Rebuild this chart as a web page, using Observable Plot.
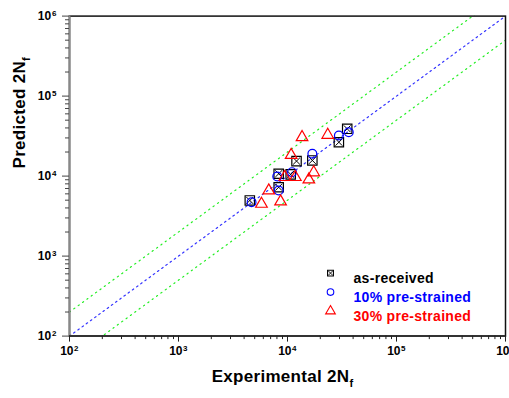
<!DOCTYPE html>
<html><head><meta charset="utf-8">
<script src="https://cdn.jsdelivr.net/npm/d3@7"></script>
<script src="https://cdn.jsdelivr.net/npm/@observablehq/plot@0.6"></script>
<style>
body{margin:0;background:#fff;}
#chart svg{font-family:"Liberation Sans",Arial,sans-serif;}
</style>
</head><body><div id="chart"></div>
<script>
// ---- data ----
const asReceivedX = [35300, 29600, 12100, 16900, 8300, 8300, 4510, 10700];
const asReceivedY = [39000, 26500, 15400, 15700, 10700, 7260, 4960, 10500];
const pre10X = [36500, 29600, 16900, 11000, 8050, 8300, 4680];
const pre10Y = [35400, 32200, 19000, 11200, 9890, 6610, 4720];
const pre30X = [23400, 13600, 10800, 17400, 15700, 9440, 11800, 6730, 8640, 5770];
const pre30Y = [32700, 30600, 18300, 11100, 9050, 9700, 9700, 6590, 4810, 4490];

const seriesNames = ["as-received", "10% pre-strained", "30% pre-strained"];
const seriesColors = ["#000000", "#0000ff", "#ff0000"];
const seriesSymbols = ["square", "circle", "triangle"];

const decadeTicks = [1e2, 1e3, 1e4, 1e5, 1e6];
const tickBase = ["10", "10", "10", "10", "10"];
const tickExponents = ["2", "3", "4", "5", "6"];
const bandFactors = [1, 2, 0.5];
const xTitle = "Experimental 2N_f";
const yTitle = "Predicted 2N_f";

// ---- tables ----
const zip = (xs, ys) => xs.map((x, i) => ({x, y: ys[i]}));
const asReceived = zip(asReceivedX, asReceivedY);
const pre10 = zip(pre10X, pre10Y);
const pre30 = zip(pre30X, pre30Y);
const minorTicks = decadeTicks.slice(0, -1).flatMap(d => [2,3,4,5,6,7,8,9].map(k => k * d));
const lineEnds = [decadeTicks[0], decadeTicks[decadeTicks.length - 1]];
const bandLine = f => lineEnds.map(x => ({x, y: x * f}));
const tickTable = decadeTicks.map((v, i) => ({v, base: tickBase[i], exp: tickExponents[i]}));

const bold = {fontWeight: "bold", fill: "#000"};

const legendMarks = seriesNames.flatMap((name, i) => {
  const dy = 257 + 19 * i;
  const m = [
    Plot.dot([name], {frameAnchor: "top-left", dx: 261, dy, symbol: seriesSymbols[i],
      r: seriesSymbols[i] === "triangle" ? 3.6 : 3.3, stroke: seriesColors[i], strokeWidth: 1.1, fill: "none"}),
    Plot.text([name], {frameAnchor: "top-left", dx: 284, dy, text: d => d, textAnchor: "start",
      fontSize: 14, fontWeight: "bold", fill: seriesColors[i], className: "legtext"})
  ];
  if (seriesSymbols[i] === "square")
    m.push(Plot.dot([name], {frameAnchor: "top-left", dx: 261, dy, symbol: "times", r: 2.2, stroke: seriesColors[i], strokeWidth: 0.9}));
  return m;
});

const plot = Plot.plot({
  width: 509, height: 398,
  marginLeft: 69, marginRight: 4, marginTop: 15.6, marginBottom: 62.4,
  x: {type: "log", domain: lineEnds},
  y: {type: "log", domain: lineEnds},
  style: {background: "#fff", fontFamily: "'Liberation Sans',Arial,sans-serif"},
  marks: [
    Plot.line(bandLine(bandFactors[1]), {x: "x", y: "y", stroke: "#22ee22", strokeWidth: 1.2, strokeDasharray: "1.2,4.2", clip: true}),
    Plot.line(bandLine(bandFactors[2]), {x: "x", y: "y", stroke: "#22ee22", strokeWidth: 1.2, strokeDasharray: "1.2,4.2", clip: true}),
    Plot.line(bandLine(bandFactors[0]), {x: "x", y: "y", stroke: "#3333ff", strokeWidth: 1.2, strokeDasharray: "1.6,3.6", clip: true}),
    Plot.frame({stroke: "#111", strokeWidth: 1.5}),
    Plot.ruleX([decadeTicks[0]], {stroke: "#888", strokeWidth: 2}),
    Plot.ruleY([decadeTicks[0]], {stroke: "#333", strokeWidth: 2}),
    Plot.axisX({ticks: decadeTicks, tickSize: 6, tickFormat: () => "", stroke: "#222", label: null}),
    Plot.axisX({ticks: minorTicks, tickSize: 3.5, tickFormat: () => "", stroke: "#222", label: null}),
    Plot.axisY({ticks: decadeTicks, tickSize: 7, tickFormat: () => "", stroke: "#444", label: null}),
    Plot.axisY({ticks: minorTicks, tickSize: 4, tickFormat: () => "", stroke: "#444", label: null}),
    // tick labels
    Plot.text(tickTable, {x: "v", frameAnchor: "bottom", text: "base", textAnchor: "end", dx: 4, dy: 18.5, fontSize: 12, ...bold}),
    Plot.text(tickTable, {x: "v", frameAnchor: "bottom", text: "exp", textAnchor: "start", dx: 4.5, dy: 15, fontSize: 8, ...bold}),
    Plot.text(tickTable, {y: "v", frameAnchor: "left", text: "base", textAnchor: "end", dx: -18.3, dy: 0, fontSize: 12, ...bold}),
    Plot.text(tickTable, {y: "v", frameAnchor: "left", text: "exp", textAnchor: "start", dx: -17.5, dy: -2.5, fontSize: 8, ...bold}),
    // data
    Plot.dot(asReceived, {x: "x", y: "y", symbol: "square", r: 5.3, stroke: "#000", strokeWidth: 1.2, fill: "none"}),
    Plot.dot(asReceived, {x: "x", y: "y", symbol: "times", r: 3.2, stroke: "#000", strokeWidth: 1}),
    Plot.dot(pre10, {x: "x", y: "y", symbol: "circle", r: 4.4, stroke: "#0000ff", strokeWidth: 1.2, fill: "none"}),
    Plot.dot(pre30, {x: "x", y: "y", symbol: "triangle", r: 4.3, stroke: "#ff0000", strokeWidth: 1.2, fill: "none"}),
    // legend
    ...legendMarks,
    // axis titles
    Plot.text([xTitle], {frameAnchor: "bottom", text: d => d, dx: -5, dy: 46, fontSize: 17, ...bold}),
    Plot.text([yTitle], {frameAnchor: "left", text: d => d, rotate: -90, dx: -50, dy: -7.6, fontSize: 17, ...bold})
  ]
});

// subscripts in the axis titles
plot.querySelectorAll("text").forEach(t => {
  const s = t.textContent;
  if (s === xTitle || s === yTitle) {
    const main = s.replace("_f", "");
    t.textContent = "";
    t.setAttribute("letter-spacing", "0.3");
    const ns = "http://www.w3.org/2000/svg";
    const a = document.createElementNS(ns, "tspan"); a.textContent = main;
    const b = document.createElementNS(ns, "tspan"); b.textContent = "f";
    b.setAttribute("font-size", "11"); b.setAttribute("dy", "5");
    t.appendChild(a); t.appendChild(b);
  }
  if (seriesNames.includes(s)) t.setAttribute("letter-spacing", "0.3");
});
document.getElementById("chart").appendChild(plot);
</script>
</body></html>
